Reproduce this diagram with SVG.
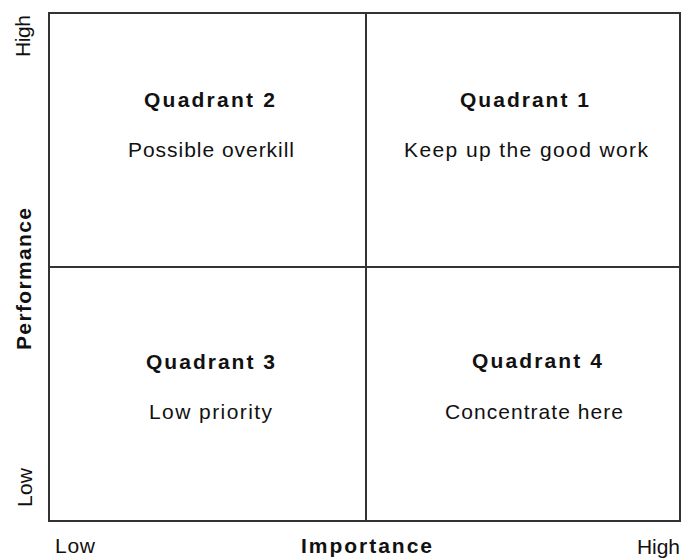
<svg xmlns="http://www.w3.org/2000/svg" width="683" height="559" viewBox="0 0 683 559">
<style>
.ln{stroke:#333;stroke-width:2;fill:none}
.t{font-family:"Liberation Sans",Arial,sans-serif;font-size:21px;fill:#111}
.b{font-weight:bold;font-size:21px}
</style>
<rect x="0" y="0" width="683" height="559" fill="#fff"/>
<g id="connectors">
<rect class="ln" x="49" y="13" width="631" height="508"/>
<line class="ln" x1="366" y1="13" x2="366" y2="521"/>
<line class="ln" x1="49" y1="267" x2="680" y2="267"/>
</g>
<g id="q2">
<text class="t b" x="144" y="107" textLength="131" lengthAdjust="spacing">Quadrant 2</text>
<text class="t" x="128" y="157" textLength="166" lengthAdjust="spacing">Possible overkill</text>
</g>
<g id="q1">
<text class="t b" x="460" y="107" textLength="129" lengthAdjust="spacing">Quadrant 1</text>
<text class="t" x="404" y="157" textLength="244" lengthAdjust="spacing">Keep up the good work</text>
</g>
<g id="q3">
<text class="t b" x="146" y="369" textLength="129" lengthAdjust="spacing">Quadrant 3</text>
<text class="t" x="149" y="419" textLength="123" lengthAdjust="spacing">Low priority</text>
</g>
<g id="q4">
<text class="t b" x="472" y="368" textLength="130" lengthAdjust="spacing">Quadrant 4</text>
<text class="t" x="445" y="419" textLength="178" lengthAdjust="spacing">Concentrate here</text>
</g>
<g id="x-axis">
<text class="t" x="55" y="553" textLength="40" lengthAdjust="spacing">Low</text>
<text class="t b" x="301" y="553" textLength="131" lengthAdjust="spacing">Importance</text>
<text class="t" x="637" y="554" textLength="43" lengthAdjust="spacing">High</text>
</g>
<g id="y-axis">
<text class="t" transform="translate(30,57) rotate(-90)" x="0" y="0" textLength="42" lengthAdjust="spacing">High</text>
<text class="t b" transform="translate(31,350) rotate(-90)" x="0" y="0" textLength="142" lengthAdjust="spacing">Performance</text>
<text class="t" transform="translate(32,507) rotate(-90)" x="0" y="0" textLength="39" lengthAdjust="spacing">Low</text>
</g>
</svg>
